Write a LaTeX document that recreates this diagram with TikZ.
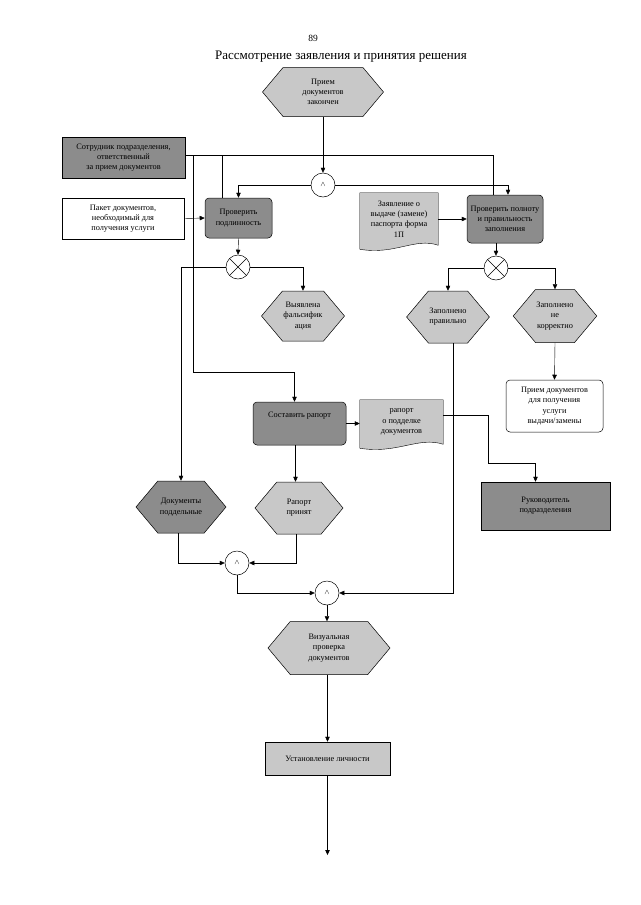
\documentclass[tikz,border=0pt]{standalone}
\usepackage{fontspec}
\setmainfont{Liberation Serif}
\usetikzlibrary{shapes.symbols,shapes.misc,arrows.meta,calc}
\pgfdeclarelayer{background}
\pgfsetlayers{background,main}
\definecolor{darkfill}{RGB}{140,140,140}
\definecolor{lightfill}{RGB}{200,200,200}
\begin{document}
\begin{tikzpicture}[x=1pt,y=-1pt,line width=0.5pt,
  lbl/.style={align=center,font=\fontsize{8.3}{10.2}\selectfont,inner sep=1pt},
  hexa/.style={signal,signal to=east and west,signal pointer angle=100,draw,lbl},
  rbox/.style={rectangle,rounded corners=4pt,draw,lbl},
  sqbox/.style={rectangle,draw,lbl},
  docn/.style={rectangle,lbl},
  circ/.style={circle,draw,fill=white,minimum size=24pt,inner sep=0pt,font=\fontsize{7}{8}\selectfont},
  xorc/.style={circ,path picture={\draw (path picture bounding box.north west) -- (path picture bounding box.south east) (path picture bounding box.north east) -- (path picture bounding box.south west);}},
  arr/.style={-{Triangle[length=5pt,width=4.5pt]}}]
\useasboundingbox (0,0) rectangle (640,905);

\node[font=\fontsize{9.5}{11}\selectfont] (pn) at (313,38) {89};
\node[font=\fontsize{13}{15}\selectfont] (title) at (341,57) {Рассмотрение заявления и принятия решения};

\node[hexa,fill=lightfill,minimum width=121pt,minimum height=49pt] (zak) at (323,92) {Прием\\документов\\закончен};
\node[circ] (andA) at (323,185) {$\wedge$};
\node[sqbox,fill=darkfill,minimum width=123pt,minimum height=41pt] (sotr) at (123.5,157.5) {Сотрудник подразделения,\\ответственный\\за прием документов};
\node[sqbox,fill=white,minimum width=122pt,minimum height=41pt] (paket) at (123,218.5) {Пакет документов,\\необходимый для\\получения услуги};
\node[rbox,fill=darkfill,minimum width=67pt,minimum height=40pt] (podl) at (238.5,218) {Проверить\\подлинность};
\node[xorc] (xorA) at (238,267) {};
\node[hexa,fill=lightfill,minimum width=80pt,minimum height=50pt] (fals) at (303,316) {Выявлена\\фальсифик\\ация};
\node[docn,minimum width=78pt,minimum height=52pt] (zay) at (399,219) {Заявление о\\выдаче (замене)\\паспорта форма\\1П};
\node[rbox,fill=darkfill,minimum width=76pt,minimum height=48pt] (poln) at (505,219) {Проверить полноту\\и правильность\\заполнения};
\node[xorc] (xorB) at (496,268) {};
\node[hexa,fill=lightfill,minimum width=76pt,minimum height=52pt] (prav) at (448,317) {Заполнено\\правильно};
\node[hexa,fill=lightfill,minimum width=76pt,minimum height=53pt] (nekor) at (555,316) {Заполнено\\не\\корректно};
\node[rbox,fill=white,minimum width=97pt,minimum height=52pt] (priem) at (554.5,406) {Прием документов\\для получения\\услуги\\выдачи/замены};
\node[rbox,fill=darkfill,minimum width=93pt,minimum height=43pt,text depth=18pt] (rap) at (299.5,423.5) {Составить рапорт};
\node[docn,minimum width=83pt,minimum height=44pt] (rdoc) at (401.5,422) {рапорт\\о подделке\\документов};
\node[sqbox,fill=darkfill,minimum width=129pt,minimum height=48pt] (ruk) at (545.5,506) {Руководитель\\подразделения};
\node[hexa,fill=darkfill,minimum width=90pt,minimum height=52pt] (dpod) at (181,507) {Документы\\поддельные};
\node[hexa,fill=lightfill,minimum width=88pt,minimum height=52pt] (rprin) at (299,508) {Рапорт\\принят};
\node[circ] (andB) at (237,563) {$\wedge$};
\node[circ] (andC) at (327,593) {$\wedge$};
\node[hexa,fill=lightfill,minimum width=122pt,minimum height=53pt] (vis) at (329,648) {Визуальная\\проверка\\документов};
\node[sqbox,fill=lightfill,minimum width=125pt,minimum height=33pt] (ust) at (327.5,758.5) {Установление личности};
\coordinate (fin) at (325,855);

\begin{pgfonlayer}{background}
\fill[white] (0,0) rectangle (640,905);
\foreach \d in {zay,rdoc}{
  \filldraw[fill=lightfill] (\d.north west) -- (\d.north east) -- (\d.south east)
    .. controls ($(\d.south east)!0.3!(\d.south west)+(0,-8)$) and ($(\d.south east)!0.55!(\d.south west)+(0,10)$) .. ($(\d.south west)+(0,4)$) -- cycle;
}
\end{pgfonlayer}

\coordinate (sl) at ([yshift=2.5pt]sotr.east);
\coordinate (bA) at (193,372);
\coordinate (rk) at (488,463);

\draw[arr] (zak.south) -- (andA.north);
\draw[arr] (andA.west) -| (podl.north);
\draw[arr] (andA.east) -| ([xshift=3pt]poln.north);
\draw (sl) -| ([xshift=-12pt]poln.north);
\draw ([xshift=-16.5pt]podl.north) |- (sl);
\draw[arr] (sl -| bA) -- (bA) -| ([xshift=-5pt]rap.north);
\draw[arr] (paket.east) -- (podl.west);
\draw[arr] (podl.south) -- (xorA.north);
\draw[arr] (xorA.west) -| (dpod.north);
\draw[arr] (xorA.east) -| (fals.north);
\draw[arr] (zay.east) -- (poln.west);
\draw[arr] (xorB.north |- poln.south) -- (xorB.north);
\draw[arr] (xorB.west) -| (prav.north);
\draw[arr] (xorB.east) -| (nekor.north);
\draw[arr] (nekor.south) -- (priem.north);
\draw[arr] ([xshift=5pt]prav.south) |- (andC.east);
\draw[arr] (rap.east) -- (rap.east -| rdoc.west);
\draw[arr] ([yshift=7pt]rdoc.east) -| (rk) -| ([xshift=-10pt]ruk.north);
\draw[arr] ([xshift=-4pt]rap.south) -- ([xshift=-4pt]rap.south |- rprin.north);
\draw[arr] ([xshift=-3pt]dpod.south) |- (andB.west);
\draw[arr] ([xshift=-3pt]rprin.south) |- (andB.east);
\draw[arr] (andB.south) |- (andC.west);
\draw[arr] (andC.south) -- (andC.south |- vis.north);
\draw[arr] (vis.south -| ust.north) -- (ust.north);
\draw[arr] (ust.south) -- (ust.south |- fin);
\end{tikzpicture}
\end{document}
